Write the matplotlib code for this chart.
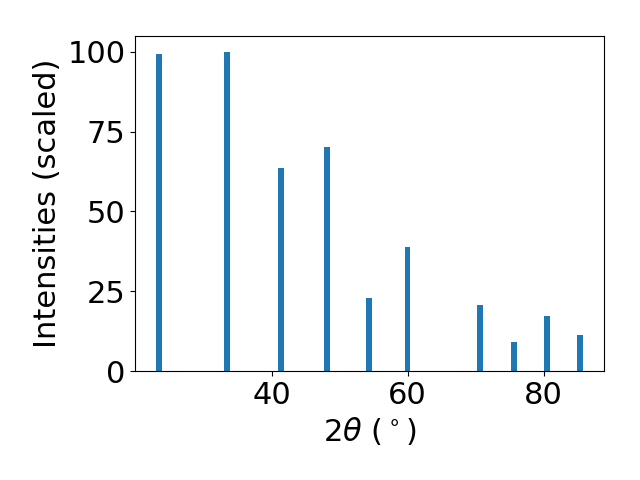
import matplotlib
matplotlib.use("Agg")
import matplotlib.pyplot as plt

two_theta = [23.43, 33.45, 41.33, 48.11, 54.30, 60.00, 70.61, 75.62, 80.48, 85.35]
intensities = [99.5, 100.0, 63.6, 70.1, 22.8, 38.8, 20.6, 9.0, 17.1, 11.2]

fig = plt.figure(figsize=(6.4, 4.8), dpi=100)
ax = fig.add_subplot(111)
fig.subplots_adjust(left=0.211, right=0.944, top=0.925, bottom=0.227)

ax.bar(two_theta, intensities, width=0.8, color="#1f77b4")
ax.set_xlabel(r"$2\theta$ ($^\circ$)", fontsize=22)
ax.set_ylabel("Intensities (scaled)", fontsize=22)
ax.tick_params(labelsize=22)
ax.set_yticks([0, 25, 50, 75, 100])
ax.set_xticks([40, 60, 80])

fig.savefig("out.png", dpi=100)
